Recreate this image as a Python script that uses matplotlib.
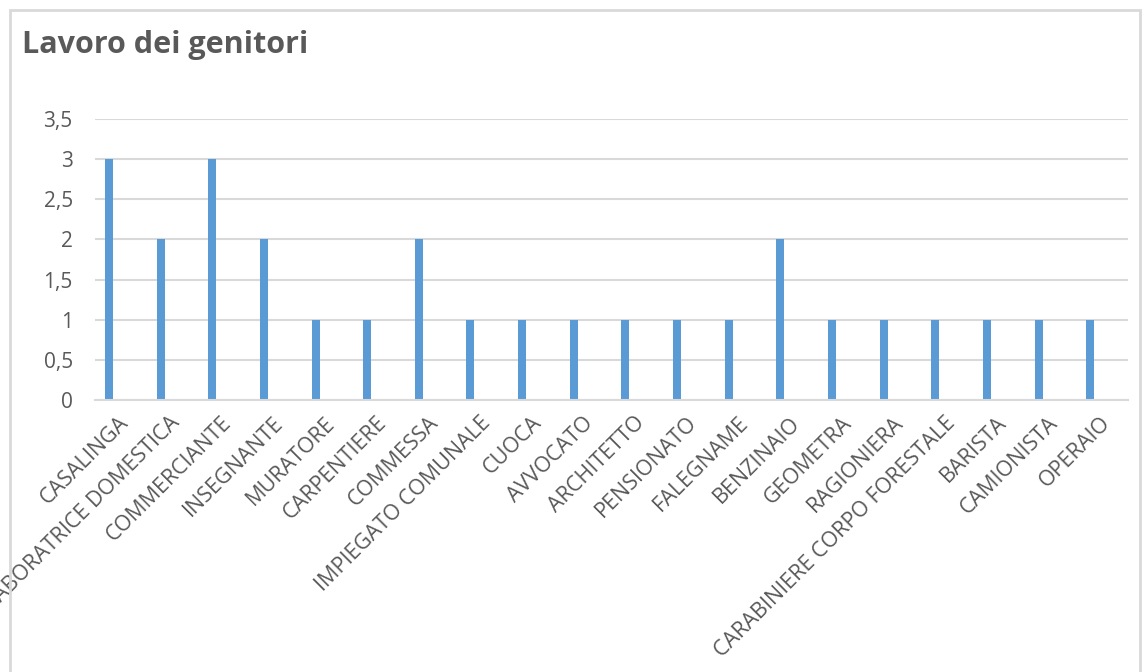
import matplotlib.pyplot as plt
from matplotlib.patches import Rectangle
from matplotlib.ticker import FuncFormatter
from matplotlib.transforms import ScaledTranslation

lavori = ['CASALINGA', 'COLLABORATRICE DOMESTICA', 'COMMERCIANTE', 'INSEGNANTE',
          'MURATORE', 'CARPENTIERE', 'COMMESSA', 'IMPIEGATO COMUNALE', 'CUOCA',
          'AVVOCATO', 'ARCHITETTO', 'PENSIONATO', 'FALEGNAME', 'BENZINAIO',
          'GEOMETRA', 'RAGIONIERA', 'CARABINIERE CORPO FORESTALE', 'BARISTA',
          'CAMIONISTA', 'OPERAIO']
conteggi = [3, 2, 3, 2, 1, 1, 2, 1, 1, 1, 1, 1, 1, 2, 1, 1, 1, 1, 1, 1]
y_ticks = [0, 0.5, 1, 1.5, 2, 2.5, 3, 3.5]

plt.rcParams['font.family'] = ['Open Sans', 'DejaVu Sans']
grigio = '#595959'

W, H = 1146, 672
fig = plt.figure(figsize=(W / 100, H / 100), dpi=100)
fig.patches.append(Rectangle((10 / W, -0.1), (1140 - 10) / W, 1.1 - 10 / H,
                             transform=fig.transFigure, fill=False,
                             edgecolor='#D9D9D9', linewidth=2))

ax = fig.add_axes([95 / W, 1 - 400 / H, (1128 - 95) / W, (400 - 119) / H])
x = list(range(len(lavori)))
ax.bar(x, conteggi, width=0.155, color='#5B9BD5', zorder=3)

ax.set_xlim(-0.27, len(lavori) - 0.27)
ax.set_ylim(0, 3.5)
ax.set_yticks(y_ticks)
ax.yaxis.set_major_formatter(FuncFormatter(lambda v, p: ('%g' % v).replace('.', ',')))
ax.grid(axis='y', color='#D9D9D9', linewidth=1.5, zorder=0)
for s in ['top', 'right', 'left']:
    ax.spines[s].set_visible(False)
ax.spines['bottom'].set_color('#D9D9D9')
ax.spines['bottom'].set_linewidth(1.5)
ax.spines['bottom'].set_zorder(4)

ax.set_xticks(x)
ax.set_xticklabels(lavori, rotation=45, ha='right', rotation_mode='anchor')
ax.tick_params(axis='x', length=0, labelsize=15.5, labelcolor=grigio, pad=9)
ax.tick_params(axis='y', length=0, labelsize=15, labelcolor=grigio, pad=16)
sposta = ScaledTranslation(9 / 100, 0, fig.dpi_scale_trans)
for lab in ax.get_xticklabels():
    lab.set_transform(lab.get_transform() + sposta)

fig.text(22 / W, 1 - 45 / H, 'Lavoro dei genitori', fontsize=22, fontweight='bold',
         color=grigio, va='center', ha='left')

fig.savefig('out.png', dpi=100)
